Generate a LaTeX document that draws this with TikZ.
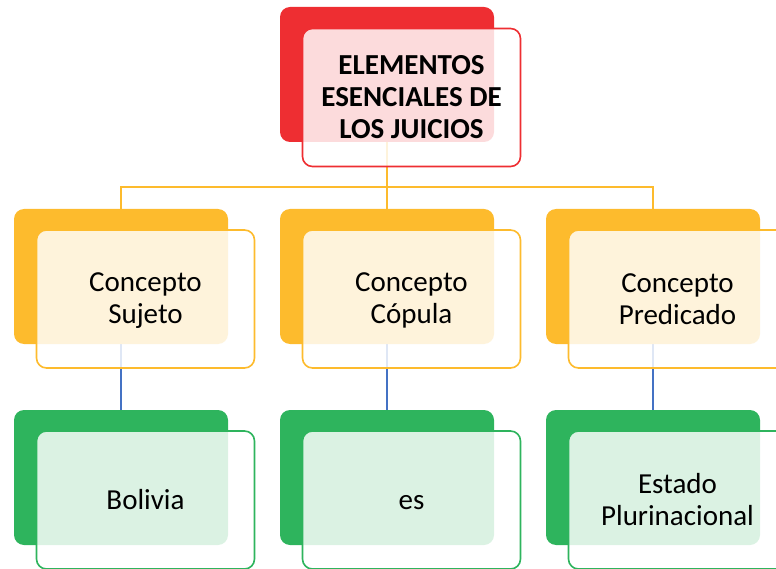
\documentclass[tikz,border=0pt]{standalone}
\usepackage{fontspec}
\setmainfont{Carlito}
\usetikzlibrary{backgrounds}
\definecolor{tituloRojo}{HTML}{EE2E32}
\definecolor{conceptoAmarillo}{HTML}{FDBB2D}
\definecolor{ejemploVerde}{HTML}{2EB45D}
\definecolor{lineaAzul}{HTML}{4472C4}
\newcommand{\alto}{\rule{0pt}{22pt}}
\newcommand{\bajo}{\rule[-4pt]{0pt}{4pt}}

\tikzset{
  backbox/.style={rounded corners=10pt, minimum width=214pt, minimum height=135pt, inner sep=0pt},
  frontbox/.style={rounded corners=10pt, minimum width=218pt, minimum height=138pt, inner sep=0pt,
                   fill=white, fill opacity=0.83, text opacity=1, line width=1.6pt, align=center,
                   font=\fontsize{29}{32}\selectfont},
  conector/.style={line width=2pt},
}

\begin{document}
\begin{tikzpicture}[x=1pt,y=-1pt]
    \useasboundingbox (0,0) rectangle (776,569);
    \clip (0,0) rectangle (776,569);

    % Title
    \node[backbox, fill=tituloRojo] (tback) at (387,74.5) {};
    \node[frontbox, draw=tituloRojo, font=\bfseries\fontsize{29}{32}\selectfont] (titulo) at (411.5,97.5)
        {ELEMENTOS\\ESENCIALES DE\\LOS JUICIOS};

    % Concepts and examples
    \foreach \cx/\nm/\txt/\ej/\ejtxt in {121/sujeto/{Concepto\\Sujeto}/bolivia/{Bolivia},
                                         387/copula/{Concepto\\Cópula}/es/{es},
                                         653/predicado/{Concepto\\Predicado}/estado/{Estado\\Plurinacional}} {
        \node[backbox, fill=conceptoAmarillo] (\nm back) at (\cx,276.5) {};
        \node[frontbox, draw=conceptoAmarillo] (\nm) at (\cx+24.5,299) {\alto\txt\bajo};
        \node[backbox, fill=ejemploVerde] (\ej back) at (\cx,477.5) {};
        \node[frontbox, draw=ejemploVerde] (\ej) at (\cx+24.5,500) {\alto\ejtxt\bajo};
    }

    % Connectors
    \begin{scope}[on background layer]
        \coordinate (bus) at (387,187);
        \draw[conector, conceptoAmarillo] (tback.south) -- (bus);
        \draw[conector, conceptoAmarillo] (sujetoback.north) |- (bus) -| (predicadoback.north);
        \draw[conector, conceptoAmarillo] (bus) -- (copulaback.north);
        \draw[conector, lineaAzul] (sujetoback.south) -- (boliviaback.north);
        \draw[conector, lineaAzul] (copulaback.south) -- (esback.north);
        \draw[conector, lineaAzul] (predicadoback.south) -- (estadoback.north);
    \end{scope}
\end{tikzpicture}
\end{document}
